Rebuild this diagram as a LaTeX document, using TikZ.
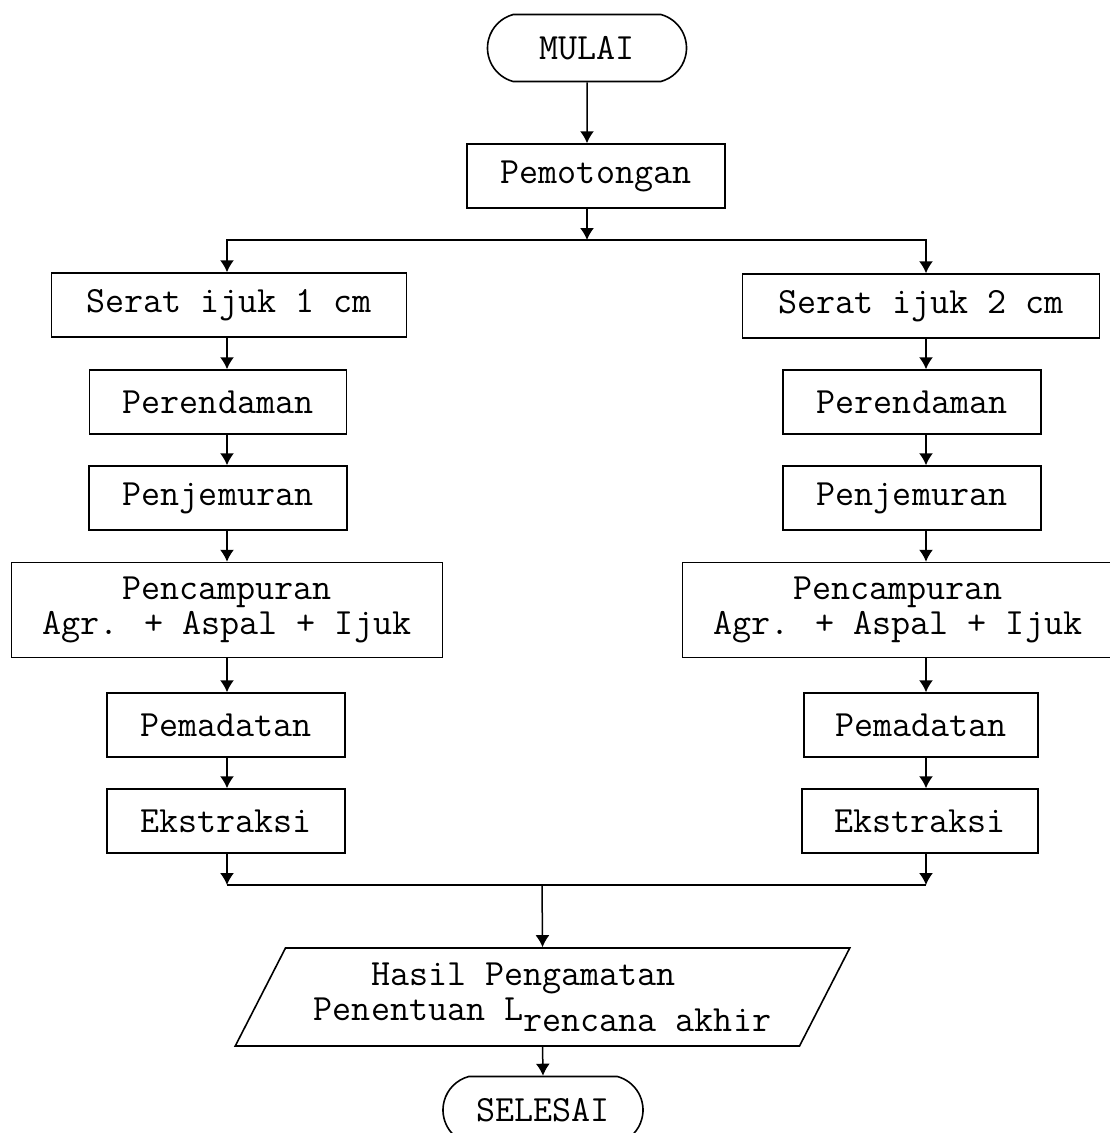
\documentclass[tikz,border=0pt]{standalone}
\usepackage{fontspec}
\usetikzlibrary{shapes.misc,shapes.geometric,arrows.meta}

\begin{document}
\begin{tikzpicture}[x=1pt,y=-1pt,
        every node/.style={font=\ttfamily\fontsize{37}{35}\selectfont},
        box/.style={draw,line width=1.5pt,rectangle,minimum height=64pt,inner sep=0pt},
        term/.style={draw,line width=1.6pt,rounded rectangle,rounded rectangle arc length=150,minimum width=199pt,minimum height=67pt,inner sep=0pt},
        io/.style={draw,line width=1.6pt,trapezium,trapezium left angle=57,trapezium right angle=123,
            trapezium stretches=true,minimum width=619pt,minimum height=98pt,align=left,inner sep=0pt},
        link/.style={-{Latex[length=12pt,width=14pt]},line width=1.5pt}]
        \useasboundingbox (0,0) rectangle (1109,1133);

        % start
        \node[term] (mulai) at (587,48) {MULAI};
        \node[box,minimum width=258pt] (potong) at (596,176) {Pemotongan};
        \coordinate (split) at (587,240);
        \coordinate (colL) at (227,0);
        \coordinate (colR) at (926,0);

        % left branch (1 cm)
        \node[box,minimum width=355pt] (serat1) at (229,305) {Serat ijuk 1 cm};
        \node[box,minimum width=257pt] (rendam1) at (218,402) {Perendaman};
        \node[box,minimum width=258pt] (jemur1) at (218,498) {Penjemuran};
        \node[box,minimum width=431pt,minimum height=95pt,align=center] (campur1) at (227,610) {Pencampuran\\Agr. + Aspal + Ijuk};
        \node[box,minimum width=238pt] (padat1) at (226,725) {Pemadatan};
        \node[box,minimum width=238pt] (ekstrak1) at (226,821) {Ekstraksi};

        % right branch (2 cm)
        \node[box,minimum width=357pt] (serat2) at (921,306) {Serat ijuk 2 cm};
        \node[box,minimum width=258pt] (rendam2) at (912,402) {Perendaman};
        \node[box,minimum width=258pt] (jemur2) at (912,498) {Penjemuran};
        \node[box,minimum width=431pt,minimum height=95pt,align=center] (campur2) at (898,610) {Pencampuran\\Agr. + Aspal + Ijuk};
        \node[box,minimum width=234pt] (padat2) at (921,725) {Pemadatan};
        \node[box,minimum width=236pt] (ekstrak2) at (920,821) {Ekstraksi};

        % end
        \coordinate (merge) at (542,885);
        \node[io] (hasil) at (542.5,997) {\phantom{xxx}Hasil Pengamatan\\Penentuan L\raisebox{-11pt}{rencana akhir}};
        \node[term,minimum width=200pt] (selesai) at (543,1110) {SELESAI};

        % connectors
        \draw[link] (mulai) -- (mulai |- potong.north);
        \draw[link] (potong.south -| split) -- (split);
        \draw[link] (split) -| (colL |- serat1.north);
        \draw[link] (split) -| (colR |- serat2.north);
        \draw[link] (serat1.south -| colL) -- (rendam1.north -| colL);
        \draw[link] (rendam1.south -| colL) -- (jemur1.north -| colL);
        \draw[link] (jemur1.south -| colL) -- (campur1.north -| colL);
        \draw[link] (campur1.south -| colL) -- (padat1.north -| colL);
        \draw[link] (padat1.south -| colL) -- (ekstrak1.north -| colL);
        \draw[link] (serat2.south -| colR) -- (rendam2.north -| colR);
        \draw[link] (rendam2.south -| colR) -- (jemur2.north -| colR);
        \draw[link] (jemur2.south -| colR) -- (campur2.north -| colR);
        \draw[link] (campur2.south -| colR) -- (padat2.north -| colR);
        \draw[link] (padat2.south -| colR) -- (ekstrak2.north -| colR);
        \draw[link] (ekstrak1.south -| colL) -- (colL |- merge);
        \draw[link] (ekstrak2.south -| colR) -- (colR |- merge);
        \draw[line width=1.5pt] (colL |- merge) -- (colR |- merge);
        \draw[link] (merge) -- (hasil.north);
        \draw[link] (hasil.south) -- (selesai.north);
\end{tikzpicture}
\end{document}
